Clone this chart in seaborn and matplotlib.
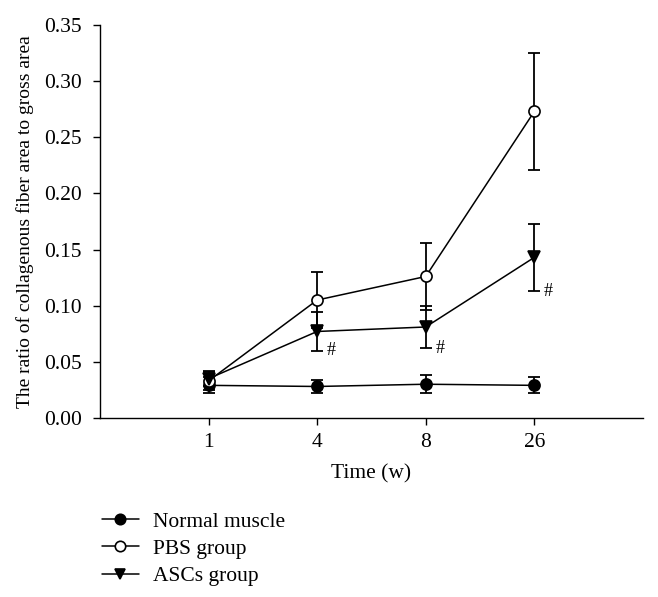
import matplotlib
matplotlib.use("Agg")
import matplotlib.pyplot as plt
import seaborn as sns
import pandas as pd
import numpy as np
from matplotlib.lines import Line2D

weeks = ["1", "4", "8", "26"]
groups = ["Normal muscle", "PBS group", "ASCs group"]
normal_mean = [0.029, 0.028, 0.030, 0.029]
normal_err = [0.007, 0.006, 0.008, 0.007]
pbs_mean = [0.033, 0.105, 0.126, 0.273]
pbs_err = [0.008, 0.025, 0.030, 0.052]
ascs_mean = [0.035, 0.077, 0.081, 0.143]
ascs_err = [0.007, 0.017, 0.019, 0.030]
sig_marks = ["", "#", "#", "#"]

means = [normal_mean, pbs_mean, ascs_mean]
errs = [normal_err, pbs_err, ascs_err]

sns.set_theme(style="ticks", rc={"text.color": "black", "axes.labelcolor": "black",
                                  "axes.edgecolor": "black", "xtick.color": "black",
                                  "ytick.color": "black"})
plt.rcParams["font.family"] = ["Liberation Serif", "DejaVu Serif"]
plt.rcParams["axes.linewidth"] = 1.0

rows = []
for g, m, e in zip(groups, means, errs):
    for i, w in enumerate(weeks):
        rows.append({"pos": i, "week": w, "group": g, "value": m[i], "err": e[i]})
df = pd.DataFrame(rows)

fig = plt.figure(figsize=(6.58, 5.97), dpi=100)
ax = fig.add_axes([0.152, 0.300, 0.825, 0.658])

markers = {"Normal muscle": "o", "PBS group": "o", "ASCs group": "v"}
faces = {"Normal muscle": "black", "PBS group": "white", "ASCs group": "black"}

for g in groups:
    sub = df[df.group == g]
    ax.errorbar(sub.pos, sub.value, yerr=sub.err, fmt="none", ecolor="black",
                elinewidth=1.3, capsize=4.5, capthick=1.3, zorder=2)

for g in groups:
    sub = df[df.group == g]
    sns.lineplot(data=sub, x="pos", y="value", color="black", marker=markers[g],
                 markersize=8, markerfacecolor=faces[g], markeredgecolor="black",
                 markeredgewidth=1.2, linewidth=1.1, ax=ax, legend=False, zorder=3)

for i, s in enumerate(sig_marks):
    if s:
        ax.annotate(s, (i, ascs_mean[i] - ascs_err[i]), xytext=(7, 0),
                    textcoords="offset points", ha="left", va="center",
                    fontsize=13, color="black")

ax.set_xlim(-1.0, 4.0)
ax.set_ylim(0, 0.35)
ax.set_xticks(range(len(weeks)))
ax.set_xticklabels(weeks)
yt = np.arange(0, 0.351, 0.05)
ax.set_yticks(yt)
ax.set_yticklabels([f"{v:.2f}" for v in yt])
ax.tick_params(axis="both", direction="out", length=5, width=1.0,
               labelsize=15.5, colors="black")
ax.tick_params(axis="y", pad=8)
ax.tick_params(axis="x", pad=6)
ax.set_xlabel("Time (w)", fontsize=15.5, labelpad=9)
ax.set_ylabel("The ratio of collagenous fiber area to gross area", fontsize=14, labelpad=7)
sns.despine(ax=ax)

handles = [Line2D([0], [0], color="black", lw=1.1, marker=markers[g], markersize=7.5,
                  markerfacecolor=faces[g], markeredgecolor="black", markeredgewidth=1.2)
           for g in groups]
fig.legend(handles, groups, loc="upper left", bbox_to_anchor=(0.155, 0.143),
           frameon=False, fontsize=15.5, handlelength=1.7, handletextpad=0.65,
           labelspacing=0.33, borderaxespad=0, borderpad=0)

fig.savefig("out.png", dpi=100)
